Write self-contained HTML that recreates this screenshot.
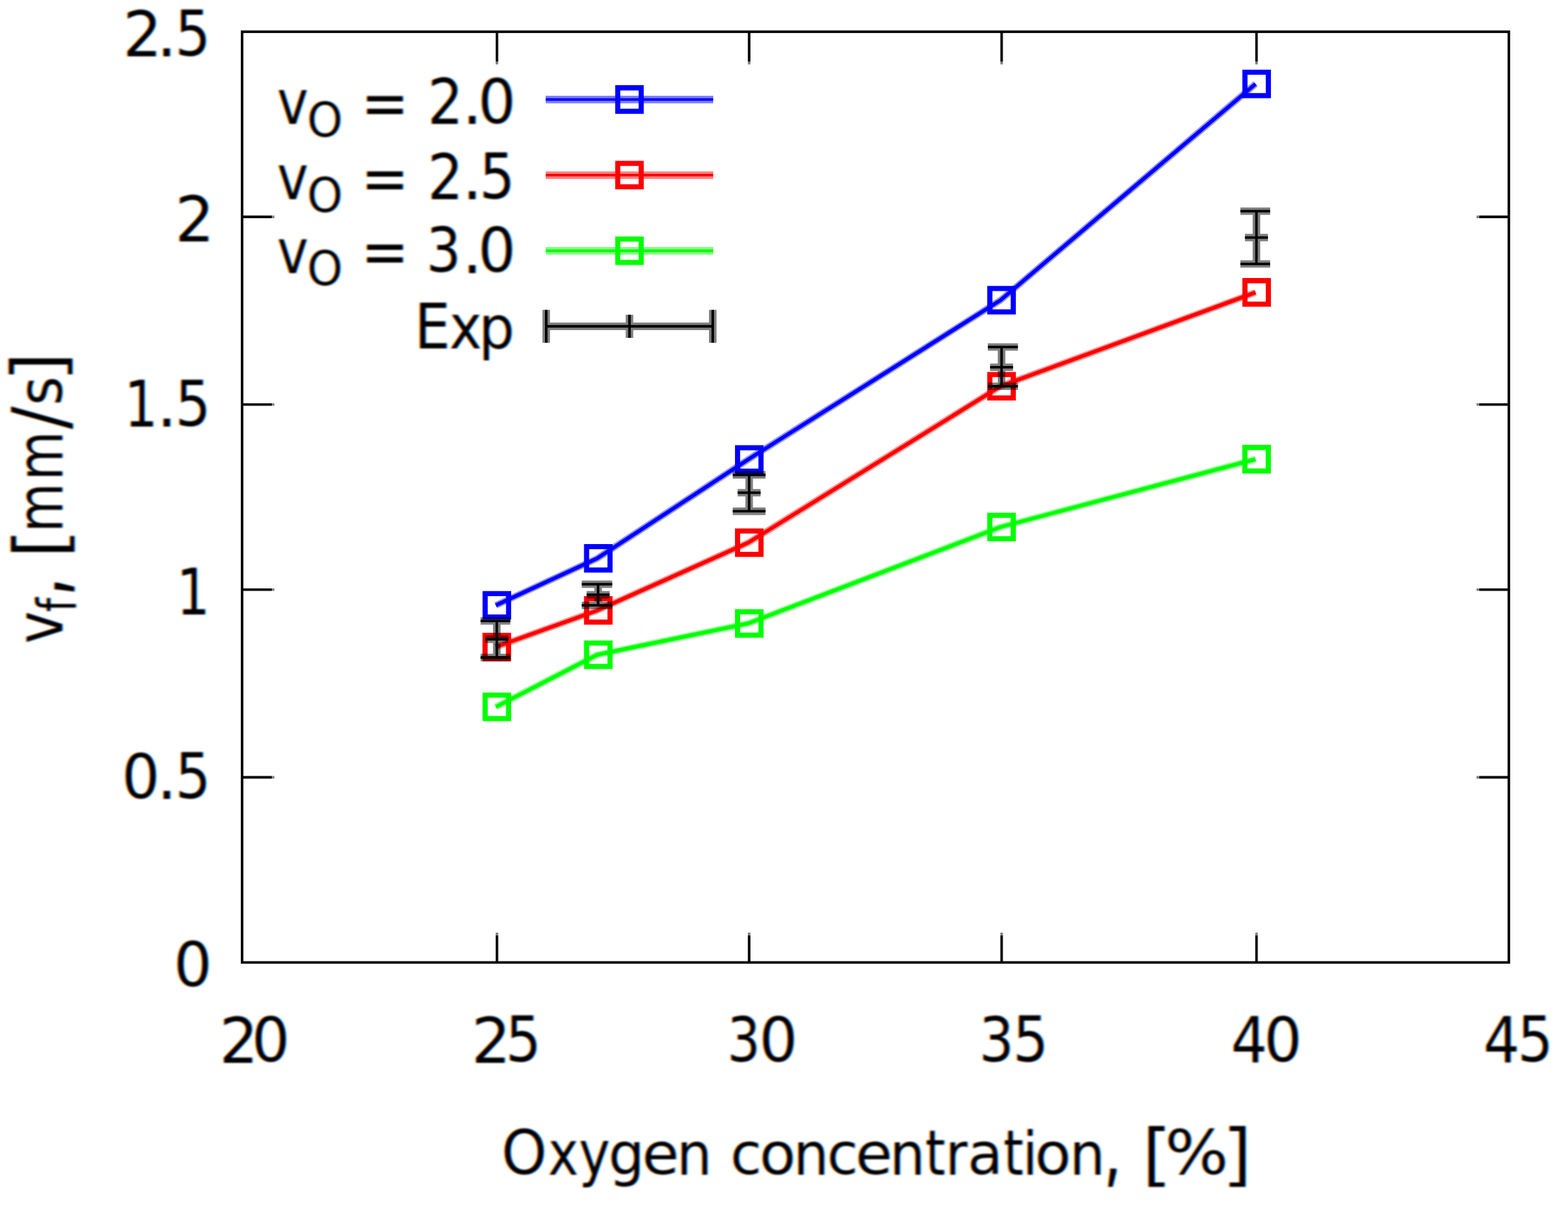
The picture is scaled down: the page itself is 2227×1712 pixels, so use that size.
<!DOCTYPE html>
<html lang="en">
<head>
<meta charset="utf-8">
<title>Flame spread rate vs oxygen concentration</title>
<style>
html,body{margin:0;padding:0;background:#fff;}
body{width:2227px;height:1712px;overflow:hidden;}
svg{display:block;}
text{font-family:"DejaVu Sans Condensed","DejaVu Sans","Liberation Sans",sans-serif;font-size:90.5px;fill:#000;white-space:pre;}
</style>
</head>
<body>
<svg xmlns="http://www.w3.org/2000/svg" width="2227" height="1712" viewBox="0 0 2227 1712">
<defs>
<filter id="ct" filterUnits="userSpaceOnUse" x="0" y="0" width="2227" height="1712" color-interpolation-filters="sRGB">
<feGaussianBlur in="SourceAlpha" stdDeviation="1.4 0.8" result="a"/>
<feOffset in="a" dx="1.3" dy="0" result="sr"/>
<feOffset in="a" dx="-1.3" dy="0" result="sb"/>
<feColorMatrix in="sr" type="matrix" values="0 0 0 -1 1  0 0 0 0 1  0 0 0 0 1  0 0 0 0 1" result="r"/>
<feColorMatrix in="a" type="matrix" values="0 0 0 0 1  0 0 0 -1 1  0 0 0 0 1  0 0 0 0 1" result="g"/>
<feColorMatrix in="sb" type="matrix" values="0 0 0 0 1  0 0 0 0 1  0 0 0 -1 1  0 0 0 0 1" result="b"/>
<feBlend in="r" in2="g" mode="multiply" result="rg"/>
<feBlend in="rg" in2="b" mode="multiply"/>
</filter>
</defs>
<rect width="2227" height="1712" fill="#fff"/>
<g id="labels" filter="url(#ct)">
<text y="80"><tspan x="174.54" font-size="88.3" textLength="55.48" lengthAdjust="spacingAndGlyphs">2</tspan><tspan x="222.36" font-family="DejaVu Sans">.</tspan><tspan x="248.62" dy="-1.3" font-size="88.3">5</tspan></text>
<text y="343.2"><tspan x="248.5" font-size="88.3" textLength="55.89" lengthAdjust="spacingAndGlyphs">2</tspan></text>
<text y="605.8"><tspan x="176.52" font-size="90.1" textLength="47.47" lengthAdjust="spacingAndGlyphs">1</tspan><tspan x="222.46" font-family="DejaVu Sans">.</tspan><tspan x="248.67" dy="-1.3" font-size="88.3">5</tspan></text>
<text y="872.6"><tspan x="250.6" font-size="90.1" textLength="47.61" lengthAdjust="spacingAndGlyphs">1</tspan></text>
<text y="1135"><tspan x="172.76" dy="-1.3" font-size="86.5" textLength="54.2" lengthAdjust="spacingAndGlyphs">0</tspan><tspan x="222.46" dy="1.3" font-family="DejaVu Sans">.</tspan><tspan x="248.67" dy="-1.3" font-size="88.3">5</tspan></text>
<text y="1401.8"><tspan x="246.52" dy="-1.3" font-size="86.5" textLength="54.69" lengthAdjust="spacingAndGlyphs">0</tspan></text>
<text y="1509.5"><tspan x="311.56" font-size="88.3" textLength="55.34" lengthAdjust="spacingAndGlyphs">2</tspan><tspan x="357.35" dy="-1.3" font-size="86.5" textLength="54.33" lengthAdjust="spacingAndGlyphs">0</tspan></text>
<text y="1509.5"><tspan x="669.48" font-size="88.3" textLength="56.02" lengthAdjust="spacingAndGlyphs">2</tspan><tspan x="717.92" dy="-1.3" font-size="88.3">5</tspan></text>
<text y="1509.5"><tspan x="1032.66" dy="-1.3" font-size="86.5" textLength="47.11" lengthAdjust="spacingAndGlyphs">3</tspan><tspan x="1077.9" font-size="86.5" textLength="54.94" lengthAdjust="spacingAndGlyphs">0</tspan></text>
<text y="1509.5"><tspan x="1390.4" dy="-1.3" font-size="86.5">3</tspan><tspan x="1438.62" font-size="88.3">5</tspan></text>
<text y="1509.5"><tspan x="1748.31" font-size="90.1">4</tspan><tspan x="1795.06" dy="-1.3" font-size="86.5" textLength="54.2" lengthAdjust="spacingAndGlyphs">0</tspan></text>
<text y="1509.5"><tspan x="2106.81" font-size="90.1">4</tspan><tspan x="2155.27" dy="-1.3" font-size="88.3">5</tspan></text>
<text y="176.2"><tspan x="393.4" font-size="87" textLength="44.28" lengthAdjust="spacingAndGlyphs">v</tspan><tspan x="436.14" dy="17.8" font-size="68.5" textLength="50.75" lengthAdjust="spacingAndGlyphs">O</tspan><tspan x="490" dy="-17.8"> </tspan><tspan x="512.41" dy="1.5">=</tspan><tspan x="580" dy="-1.5"> </tspan><tspan x="607.36" font-size="88.3">2</tspan><tspan x="656.31" font-family="DejaVu Sans">.</tspan><tspan x="678.79" dy="-1.3" font-size="86.5" textLength="53.84" lengthAdjust="spacingAndGlyphs">0</tspan></text>
<text y="283.4"><tspan x="393.4" font-size="87" textLength="44.28" lengthAdjust="spacingAndGlyphs">v</tspan><tspan x="436.14" dy="17.8" font-size="68.5" textLength="50.75" lengthAdjust="spacingAndGlyphs">O</tspan><tspan x="490" dy="-17.8"> </tspan><tspan x="512.41" dy="1.5">=</tspan><tspan x="580" dy="-1.5"> </tspan><tspan x="607.36" font-size="88.3">2</tspan><tspan x="656.31" font-family="DejaVu Sans">.</tspan><tspan x="680.67" dy="-1.3" font-size="88.3">5</tspan></text>
<text y="387.6"><tspan x="393.4" font-size="87" textLength="44.28" lengthAdjust="spacingAndGlyphs">v</tspan><tspan x="436.14" dy="17.8" font-size="68.5" textLength="50.75" lengthAdjust="spacingAndGlyphs">O</tspan><tspan x="490" dy="-17.8"> </tspan><tspan x="512.41" dy="1.5">=</tspan><tspan x="580" dy="-1.5"> </tspan><tspan x="605.2" dy="-1.3" font-size="86.5">3</tspan><tspan x="656.31" dy="1.3" font-family="DejaVu Sans">.</tspan><tspan x="678.79" dy="-1.3" font-size="86.5" textLength="53.84" lengthAdjust="spacingAndGlyphs">0</tspan></text>
<text y="495"><tspan x="588.44" font-size="89.8">E</tspan><tspan x="637.89" font-size="87">x</tspan><tspan x="679.82" font-size="84.4" textLength="51.06" lengthAdjust="spacingAndGlyphs">p</tspan></text>
<text y="1668.9"><tspan x="712.01" dy="-1.3" font-size="86.8" textLength="64.8" lengthAdjust="spacingAndGlyphs">O</tspan><tspan x="778.13" dy="1.3" font-size="87" textLength="43.32" lengthAdjust="spacingAndGlyphs">x</tspan><tspan x="822" font-size="87" textLength="44.39" lengthAdjust="spacingAndGlyphs">y</tspan><tspan x="863.99" font-size="84.4" textLength="51.31" lengthAdjust="spacingAndGlyphs">g</tspan><tspan x="911.83" dy="-1.2" font-size="82.3" textLength="52.8" lengthAdjust="spacingAndGlyphs">e</tspan><tspan x="961.03" dy="1.2" font-size="84.4" textLength="50.15" lengthAdjust="spacingAndGlyphs">n</tspan><tspan x="1012"> </tspan><tspan x="1037.19" dy="-1.2" font-size="82.3" textLength="44.44" lengthAdjust="spacingAndGlyphs">c</tspan><tspan x="1078.5" font-size="82.3" textLength="51.65" lengthAdjust="spacingAndGlyphs">o</tspan><tspan x="1126.69" dy="1.2" font-size="84.4" textLength="50.42" lengthAdjust="spacingAndGlyphs">n</tspan><tspan x="1174.41" dy="-1.2" font-size="82.3" textLength="44.2" lengthAdjust="spacingAndGlyphs">c</tspan><tspan x="1214.73" font-size="82.3" textLength="52.8" lengthAdjust="spacingAndGlyphs">e</tspan><tspan x="1263.57" dy="1.2" font-size="84.4" textLength="50.56" lengthAdjust="spacingAndGlyphs">n</tspan><tspan x="1314.03" font-size="88.9" textLength="28.58" lengthAdjust="spacingAndGlyphs">t</tspan><tspan x="1342.63" font-size="84.4">r</tspan><tspan x="1374.11" dy="-1.2" font-size="82.3" textLength="50.4" lengthAdjust="spacingAndGlyphs">a</tspan><tspan x="1425.03" dy="1.2" font-size="88.9" textLength="28.58" lengthAdjust="spacingAndGlyphs">t</tspan><tspan x="1452.35" font-size="86">i</tspan><tspan x="1469.5" dy="-1.2" font-size="82.3" textLength="51.65" lengthAdjust="spacingAndGlyphs">o</tspan><tspan x="1519.07" dy="1.2" font-size="84.4" textLength="50.56" lengthAdjust="spacingAndGlyphs">n</tspan><tspan x="1560.3" dy="1.1" font-size="131" font-family="DejaVu Sans" font-weight="200" stroke="#000" stroke-width="2.6" stroke-linejoin="miter">,</tspan><tspan x="1596" dy="-1.1"> </tspan><tspan x="1619.16" dy="3.65" font-size="94.8" font-family="DejaVu Sans" font-weight="200" stroke="#000" stroke-width="2.4" stroke-linejoin="miter" textLength="46.23" lengthAdjust="spacingAndGlyphs">[</tspan><tspan x="1654.33" dy="-4.95" font-size="86.5" font-family="DejaVu Sans" textLength="90.56" lengthAdjust="spacingAndGlyphs">%</tspan><tspan x="1734.16" dy="4.95" font-size="94.8" font-family="DejaVu Sans" font-weight="200" stroke="#000" stroke-width="2.4" stroke-linejoin="miter" textLength="46.23" lengthAdjust="spacingAndGlyphs">]</tspan></text>
<text y="0" transform="translate(88.5 914) rotate(-90)"><tspan x="-0.45" font-size="93.09" textLength="46.09" lengthAdjust="spacingAndGlyphs">v</tspan><tspan x="44.5" dy="18.5" font-size="77" textLength="20.15" lengthAdjust="spacingAndGlyphs">f</tspan><tspan x="58.33" dy="-19.4" font-size="146" font-family="DejaVu Sans" font-weight="200" stroke="#000" stroke-width="2.6" stroke-linejoin="miter">,</tspan><tspan x="95" dy="0.9"> </tspan><tspan x="118.11" dy="2.6" font-size="98.5" font-family="DejaVu Sans" font-weight="200" stroke="#000" stroke-width="2.4" stroke-linejoin="miter" textLength="46.11" lengthAdjust="spacingAndGlyphs">[</tspan><tspan x="157.67" dy="-2.6" font-size="90.31" textLength="69.94" lengthAdjust="spacingAndGlyphs">m</tspan><tspan x="231.48" font-size="90.31" textLength="69.82" lengthAdjust="spacingAndGlyphs">m</tspan><tspan x="304.16" dy="4.8" font-size="106.8">/</tspan><tspan x="338.02" dy="-6.08" font-size="88.06">s</tspan><tspan x="370.16" dy="0.78" font-size="98.5" font-family="DejaVu Sans" font-weight="200" stroke="#000" stroke-width="2.4" stroke-linejoin="miter" textLength="46.11" lengthAdjust="spacingAndGlyphs">]</tspan></text>
</g>
<g id="frame" fill="none" stroke-width="3.6">
<rect x="343.8" y="45.1" width="1799.2" height="1322.3" stroke="#000"/>
<path d="M705.8 1367.4V1328.8M705.8 45.1V87.7M1064.0 1367.4V1328.8M1064.0 45.1V87.7M1422.6 1367.4V1328.8M1422.6 45.1V87.7M1784.6 1367.4V1328.8M1784.6 45.1V87.7M343.8 308.1H386.1M2143.0 308.1H2100.8M343.8 574.8H386.1M2143.0 574.8H2100.8M343.8 837.7H386.1M2143.0 837.7H2100.8M343.8 1104.4H386.1M2143.0 1104.4H2100.8" stroke="#000"/>
<path d="M705.8 1328.8V1325.1M705.8 87.7V91.4M1064.0 1328.8V1325.1M1064.0 87.7V91.4M1422.6 1328.8V1325.1M1422.6 87.7V91.4M1784.6 1328.8V1325.1M1784.6 87.7V91.4M386.1 308.1H389.7M2100.8 308.1H2097.1M386.1 574.8H389.7M2100.8 574.8H2097.1M386.1 837.7H389.7M2100.8 837.7H2097.1M386.1 1104.4H389.7M2100.8 1104.4H2097.1" stroke="#808080"/>
</g>
<g id="v2.0" fill="none" stroke-linejoin="round">
<path d="M775.0 141.4H1013.0" stroke="#0000ff" stroke-opacity="0.5" stroke-width="10.7"/>
<path d="M775.0 141.4H1013.0" stroke="#0000ff" stroke-width="3.6"/>
<path d="M877.4 124.75h33.3v33.3h-33.3z" stroke="#0000ff" stroke-width="7.3" stroke-linejoin="miter"/>
<path d="M704.2 860L848.25 793.3L1062.7 652.7L1421 426.5L1783.3 119.2" stroke="#0000ff" stroke-opacity="0.42" stroke-width="9.4"/>
<path d="M704.2 860L848.25 793.3L1062.7 652.7L1421 426.5L1783.3 119.2" stroke="#0000ff" stroke-width="5.4"/>
<path d="M689.05 843.35h33.3v33.3h-33.3zM833.1 776.65h33.3v33.3h-33.3zM1047.55 636.05h33.3v33.3h-33.3zM1405.85 409.85h33.3v33.3h-33.3zM1768.15 102.55h33.3v33.3h-33.3z" stroke="#0000ff" stroke-width="7.3" stroke-linejoin="miter"/>
</g>
<g id="v2.5" fill="none" stroke-linejoin="round">
<path d="M775.0 248.8H1013.0" stroke="#ff0000" stroke-opacity="0.5" stroke-width="10.7"/>
<path d="M775.0 248.8H1013.0" stroke="#ff0000" stroke-width="3.6"/>
<path d="M877.4 232.15h33.3v33.3h-33.3z" stroke="#ff0000" stroke-width="7.3" stroke-linejoin="miter"/>
<path d="M704.1 919.3L848.25 867.3L1062.7 771L1421 548.75L1783.3 415.4" stroke="#ff0000" stroke-opacity="0.42" stroke-width="9.4"/>
<path d="M704.1 919.3L848.25 867.3L1062.7 771L1421 548.75L1783.3 415.4" stroke="#ff0000" stroke-width="5.4"/>
<path d="M688.95 902.65h33.3v33.3h-33.3zM833.1 850.65h33.3v33.3h-33.3zM1047.55 754.35h33.3v33.3h-33.3zM1405.85 532.1h33.3v33.3h-33.3zM1768.15 398.75h33.3v33.3h-33.3z" stroke="#ff0000" stroke-width="7.3" stroke-linejoin="miter"/>
</g>
<g id="v3.0" fill="none" stroke-linejoin="round">
<path d="M775.0 356.3H1013.0" stroke="#00ff00" stroke-opacity="0.5" stroke-width="10.7"/>
<path d="M775.0 356.3H1013.0" stroke="#00ff00" stroke-width="3.6"/>
<path d="M877.4 339.65h33.3v33.3h-33.3z" stroke="#00ff00" stroke-width="7.3" stroke-linejoin="miter"/>
<path d="M704.2 1004.3L848.25 930.25L1062.7 885.7L1421 748.75L1783.2 652.4" stroke="#00ff00" stroke-opacity="0.42" stroke-width="9.4"/>
<path d="M704.2 1004.3L848.25 930.25L1062.7 885.7L1421 748.75L1783.2 652.4" stroke="#00ff00" stroke-width="5.4"/>
<path d="M689.05 987.65h33.3v33.3h-33.3zM833.1 913.6h33.3v33.3h-33.3zM1047.55 869.05h33.3v33.3h-33.3zM1405.85 732.1h33.3v33.3h-33.3zM1768.05 635.75h33.3v33.3h-33.3z" stroke="#00ff00" stroke-width="7.3" stroke-linejoin="miter"/>
</g>
<g id="exp" fill="none">
<path d="M705.6 882.2V934.1M682.6 882.2H724.8M682.6 934.1H724.8M689.3 908.1H721.9M705.6 891.8V924.4M849.5 830.0V860.0M826.3 830.0H869.5M826.3 860.0H869.5M833.2 845.0H865.8M849.5 828.7V861.3M1064.0 674.7V726.3M1040.7 674.7H1087.3M1040.7 726.3H1087.3M1047.7 700.0H1080.3M1064.0 683.7V716.3M1422.5 493.0V548.75M1403.0 493.0H1445.7M1403.0 548.75H1445.7M1406.2 521.75H1438.8M1422.5 505.45V538.05M1784.5 300.0V375.0M1761.7 300.0H1804.0M1761.7 375.0H1804.0M1768.2 337.5H1800.8M1784.5 321.2V353.8M775.8 463.6H1012.3M775.8 440.3V486.9M1012.3 440.3V486.9M877.75 463.6H910.35M894.05 447.3V479.9" stroke="#000" stroke-opacity="0.5" stroke-width="10.7"/>
<path d="M705.6 882.2V934.1M682.6 882.2H724.8M682.6 934.1H724.8M689.3 908.1H721.9M705.6 891.8V924.4M849.5 830.0V860.0M826.3 830.0H869.5M826.3 860.0H869.5M833.2 845.0H865.8M849.5 828.7V861.3M1064.0 674.7V726.3M1040.7 674.7H1087.3M1040.7 726.3H1087.3M1047.7 700.0H1080.3M1064.0 683.7V716.3M1422.5 493.0V548.75M1403.0 493.0H1445.7M1403.0 548.75H1445.7M1406.2 521.75H1438.8M1422.5 505.45V538.05M1784.5 300.0V375.0M1761.7 300.0H1804.0M1761.7 375.0H1804.0M1768.2 337.5H1800.8M1784.5 321.2V353.8M775.8 463.6H1012.3M775.8 440.3V486.9M1012.3 440.3V486.9M877.75 463.6H910.35M894.05 447.3V479.9" stroke="#000" stroke-width="3.6"/>
</g>
</svg>
</body>
</html>
